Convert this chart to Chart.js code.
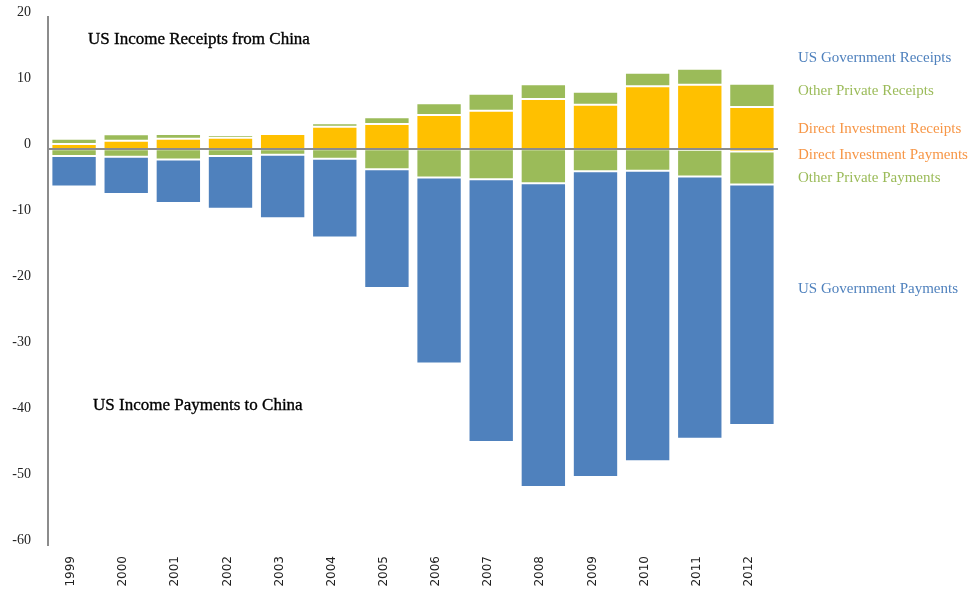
<!DOCTYPE html>
<html>
<head>
<meta charset="utf-8">
<title>US Income Receipts and Payments with China</title>
<script src="https://cdn.jsdelivr.net/npm/chart.js@4/dist/chart.umd.min.js"></script>
<style>
  html, body { margin: 0; padding: 0; background: #fff; }
  #wrap { width: 973px; height: 596px; position: relative; }
</style>
</head>
<body>
<div id="wrap"><canvas id="incomeChart"></canvas></div>
<script>
// --- Data (billions of USD) ---
const YEARS = ["1999", "2000", "2001", "2002", "2003", "2004", "2005",
  "2006", "2007", "2008", "2009", "2010", "2011", "2012"];

// receipts, stacked upward from zero
const DI_RECEIPTS = [0.76, 1.26, 1.56, 1.71, 2.27, 3.38, 3.79, 5.15, 5.8, 7.58, 6.71, 9.49, 9.74, 6.36];
const OTHER_PRIVATE_RECEIPTS = [0.81, 0.96, 0.71, 0.4, 0.26, 0.51, 1.01, 1.77, 2.58, 2.22, 1.97, 2.08, 2.43, 3.53];
const GOV_RECEIPTS = [0.1, 0.05, 0.15, 0.1, 0.2, 0.05, 0.05, 0.05, 0.05, 0.05, 0.05, 0.1, 0.1, 0.05];

// payments, stacked downward from zero
const DI_PAYMENTS = [-0.05, -0.05, -0.05, -0.05, -0.05, -0.05, -0.05, -0.05, -0.05, -0.05, -0.05, -0.05, -0.1, -0.36];
const OTHER_PRIVATE_PAYMENTS = [-1.01, -1.12, -1.53, -1.01, -0.81, -1.42, -3.01, -4.25, -4.55, -5.15, -3.34, -3.24, -4.05, -5.0];
const GOV_PAYMENTS = [-4.61, -5.65, -6.6, -7.99, -9.64, -11.93, -18.0, -28.2, -39.8, -46.0, -46.31, -44.01, -39.75, -36.44];

const Y_MIN = -60;
const Y_MAX = 20;
const Y_STEP = 10;

// --- Styling ---
const COLORS = {
  BLUE: "#4F81BD",
  GREEN: "#9BBB59",
  YELLOW: "#FFC000",
  ORANGE: "#F79646",
  AXIS: "#8C8C8C",
};
const SERIF = "'Liberation Serif', 'DejaVu Serif', serif";
const SANS = "'DejaVu Sans', sans-serif";

const SIDE_LABELS = [
  { text: "US Government Receipts", color: COLORS.BLUE, y: 58 },
  { text: "Other Private Receipts", color: COLORS.GREEN, y: 91 },
  { text: "Direct Investment Receipts", color: COLORS.ORANGE, y: 129 },
  { text: "Direct Investment Payments", color: COLORS.ORANGE, y: 155 },
  { text: "Other Private Payments", color: COLORS.GREEN, y: 178 },
  { text: "US Government Payments", color: COLORS.BLUE, y: 289 },
];
const CAPTIONS = [
  { text: "US Income Receipts from China", x: 88, y: 40 },
  { text: "US Income Payments to China", x: 93, y: 406 },
];

function makeDataset(label, data, color) {
  return {
    label: label,
    data: data,
    backgroundColor: color,
    borderColor: "rgba(255, 255, 255, 0.4)",
    borderWidth: 1,
    borderSkipped: false,
    stack: "income",
    categoryPercentage: 1,
    barPercentage: 0.87,
  };
}

// zero line sits on top of the bars, plus the text around the plot
const annotationsPlugin = {
  id: "annotations",
  afterDatasetsDraw(chart) {
    const { ctx, chartArea, scales } = chart;
    const y0 = scales.y.getPixelForValue(0);
    ctx.save();
    ctx.strokeStyle = COLORS.AXIS;
    ctx.lineWidth = 2;
    ctx.beginPath();
    ctx.moveTo(chartArea.left, y0);
    ctx.lineTo(chartArea.right, y0);
    ctx.stroke();

    ctx.textBaseline = "middle";
    ctx.textAlign = "left";
    ctx.font = "15px " + SERIF;
    SIDE_LABELS.forEach((l) => {
      ctx.fillStyle = l.color;
      ctx.fillText(l.text, chartArea.right + 20, l.y);
    });

    ctx.font = "17px " + SERIF;
    ctx.fillStyle = "#000";
    ctx.strokeStyle = "#000";
    ctx.lineWidth = 0.35;
    CAPTIONS.forEach((c) => {
      ctx.fillText(c.text, c.x, c.y);
      ctx.strokeText(c.text, c.x, c.y);
    });
    ctx.restore();
  },
};

function init() {
  const ctx = document.getElementById("incomeChart").getContext("2d");
  new Chart(ctx, {
    type: "bar",
    data: {
      labels: YEARS,
      datasets: [
        makeDataset("Direct Investment Receipts", DI_RECEIPTS, COLORS.YELLOW),
        makeDataset("Other Private Receipts", OTHER_PRIVATE_RECEIPTS, COLORS.GREEN),
        makeDataset("US Government Receipts", GOV_RECEIPTS, COLORS.BLUE),
        makeDataset("Direct Investment Payments", DI_PAYMENTS, COLORS.YELLOW),
        makeDataset("Other Private Payments", OTHER_PRIVATE_PAYMENTS, COLORS.GREEN),
        makeDataset("US Government Payments", GOV_PAYMENTS, COLORS.BLUE),
      ],
    },
    options: {
      responsive: true,
      maintainAspectRatio: false,
      animation: false,
      layout: { padding: { top: 17, right: 195, left: 10, bottom: 0 } },
      plugins: {
        legend: { display: false },
        tooltip: { enabled: false },
      },
      scales: {
        x: {
          stacked: true,
          grid: { display: false, drawTicks: false },
          border: { display: false },
          ticks: {
            minRotation: 90,
            maxRotation: 90,
            padding: 11,
            labelOffset: -3,
            color: "#222",
            font: { family: SANS, size: 12 },
          },
          afterFit(scale) {
            scale.height = 51;
          },
        },
        y: {
          stacked: true,
          min: Y_MIN,
          max: Y_MAX,
          grid: { display: false, drawTicks: false },
          border: { display: true, color: COLORS.AXIS, width: 2 },
          ticks: {
            stepSize: Y_STEP,
            padding: 17,
            labelOffset: -5,
            color: "#222",
            font: { family: SERIF, size: 14 },
          },
          afterFit(scale) {
            // fixed axis gutter; tick labels may overhang the plot edges
            scale.width = 38;
            scale.paddingTop = 0;
            scale.paddingBottom = 0;
          },
        },
      },
    },
    plugins: [annotationsPlugin],
  });
}

document.addEventListener("DOMContentLoaded", init);
</script>
</body>
</html>
